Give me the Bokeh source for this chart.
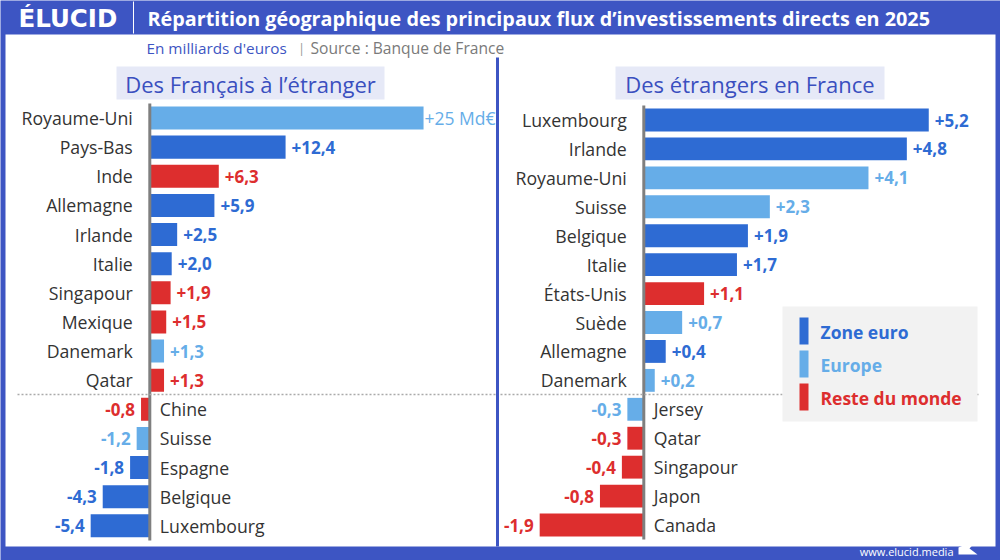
from bokeh.plotting import figure
from bokeh.models import Range1d, ColumnDataSource
from bokeh.embed import file_html
from bokeh.resources import INLINE
from bokeh.core.properties import value

# ---------------- data ----------------
out_countries = ["Royaume-Uni", "Pays-Bas", "Inde", "Allemagne", "Irlande", "Italie",
                 "Singapour", "Mexique", "Danemark", "Qatar",
                 "Chine", "Suisse", "Espagne", "Belgique", "Luxembourg"]
out_values = [25, 12.4, 6.3, 5.9, 2.5, 2.0, 1.9, 1.5, 1.3, 1.3,
              -0.8, -1.2, -1.8, -4.3, -5.4]
out_groups = ["Europe", "Zone euro", "Reste du monde", "Zone euro", "Zone euro", "Zone euro",
              "Reste du monde", "Reste du monde", "Europe", "Reste du monde",
              "Reste du monde", "Europe", "Zone euro", "Zone euro", "Zone euro"]

in_countries = ["Luxembourg", "Irlande", "Royaume-Uni", "Suisse", "Belgique", "Italie",
                "États-Unis", "Suède", "Allemagne", "Danemark",
                "Jersey", "Qatar", "Singapour", "Japon", "Canada"]
in_values = [5.2, 4.8, 4.1, 2.3, 1.9, 1.7, 1.1, 0.7, 0.4, 0.2,
             -0.3, -0.3, -0.4, -0.8, -1.9]
in_groups = ["Zone euro", "Zone euro", "Europe", "Europe", "Zone euro", "Zone euro",
             "Reste du monde", "Europe", "Zone euro", "Europe",
             "Europe", "Reste du monde", "Reste du monde", "Reste du monde", "Reste du monde"]

groups = ["Zone euro", "Europe", "Reste du monde"]
group_colors = ["#2e6bd3", "#66ade8", "#dd2e2e"]

title = "Répartition géographique des principaux flux d’investissements directs en 2025"
subtitle_unit = "En milliards d'euros"
subtitle_source = "Source : Banque de France"
panel_titles = ["Des Français à l’étranger", "Des étrangers en France"]
brand = "ÉLUCID"
site = "www.elucid.media"

# ---------------- style ----------------
FONT = value("Open Sans")
BLUE = "#3d55c3"
LABEL = "#333333"
cmap = dict(zip(groups, group_colors))


def fmt(v, unit=""):
    sign = "+" if v > 0 else "-"
    if unit:
        return sign + f"{abs(v):g}" + " " + unit
    return sign + f"{abs(v):.1f}".replace(".", ",")


def sources(countries, vals, grps, first_unit=""):
    rows = list(range(len(countries)))
    labels = [fmt(v, first_unit if i == 0 else "") for i, v in enumerate(vals)]
    cols = [cmap[g] for g in grps]
    full = ColumnDataSource(dict(row=rows, val=vals, color=cols))

    def sub(ix):
        return ColumnDataSource(dict(row=[rows[i] for i in ix], val=[vals[i] for i in ix],
                                     color=[cols[i] for i in ix], lab=[labels[i] for i in ix],
                                     name=[countries[i] for i in ix], zero=[0] * len(ix)))
    unit_ix = [0] if first_unit else []
    pos = [i for i, v in enumerate(vals) if v >= 0 and i not in unit_ix]
    neg = [i for i, v in enumerate(vals) if v < 0]
    names_pos = [i for i, v in enumerate(vals) if v >= 0]
    return full, sub(pos), sub(neg), sub(names_pos), sub(unit_ix)


p = figure(width=1000, height=560, x_range=Range1d(0, 1000), y_range=Range1d(560, 0),
           output_backend="svg", toolbar_location=None, min_border=0,
           x_axis_location=None, y_axis_location=None, outline_line_color=None,
           background_fill_color=BLUE, border_fill_color=BLUE)
p.grid.visible = False

p.extra_x_ranges = {
    "L": Range1d(-149.3 / 10.95, (1000 - 149.3) / 10.95),
    "R": Range1d(-643.3 / 54.8, (1000 - 643.3) / 54.8),
}
p.extra_y_ranges = {
    "L": Range1d((560 - 117.5) / 29.13, -117.5 / 29.13),
    "R": Range1d((560 - 119.5) / 28.93, -119.5 / 28.93),
}

# white content area
p.quad(left=5, right=995, top=34, bottom=546, fill_color="white", line_color=None)

# header
p.text(x=18, y=18, text=[brand], text_font=value("DejaVu Sans"), text_font_style="bold",
       text_font_size="24.5px", text_color="white", text_baseline="middle", text_align="left")
p.segment(x0=133, y0=1, x1=133, y1=33, line_color="white", line_width=1)
p.text(x=147, y=18, text=[title], text_font=FONT, text_font_style="bold",
       text_font_size="19.8px", text_color="white", text_baseline="middle", text_align="left")

# subtitle
p.text(x=146, y=47, text=[subtitle_unit], text_font=FONT, text_font_size="15.3px",
       text_color=BLUE, text_baseline="middle", text_align="left")
p.text(x=301, y=47, text=["|"], text_font=FONT, text_font_size="13px",
       text_color="#999999", text_baseline="middle", text_align="center")
p.text(x=310, y=47, text=[subtitle_source], text_font=FONT, text_font_size="15.6px",
       text_color="#7a7a7a", text_baseline="middle", text_align="left")

# divider
p.segment(x0=497, y0=57, x1=497, y1=546, line_color=BLUE, line_width=3)

# panel titles
p.quad(left=[116, 615], right=[384, 884], top=[66, 66], bottom=[99, 99],
       fill_color="#e6e9f7", line_color=None)
p.text(x=[250, 749.5], y=[83, 83], text=panel_titles, text_font=FONT,
       text_font_size="22px", text_color="#3a4fbf", text_baseline="middle", text_align="center")

for name, (countries, vals, grps, unit) in {
        "L": (out_countries, out_values, out_groups, "Md€"),
        "R": (in_countries, in_values, in_groups, "")}.items():
    full, pos, neg, names_pos, unit_src = sources(countries, vals, grps, unit)
    kw = dict(x_range_name=name, y_range_name=name)
    p.hbar(y="row", left=0, right="val", height=0.79, fill_color="color", line_color=None,
           source=full, **kw)
    p.segment(x0=0, y0=-0.5, x1=0, y1=len(countries) - 0.5, line_color="#7f7f7f",
              line_width=3, **kw)
    # positive values
    p.text(x="val", y="row", text="lab", source=pos, text_color="color", x_offset=6,
           text_font=FONT, text_font_style="bold", text_font_size="17px",
           text_baseline="middle", text_align="left", **kw)
    # value with unit (largest bar)
    p.text(x="val", y="row", text="lab", source=unit_src, text_color="color", x_offset=1,
           text_font=FONT, text_font_size="17.5px",
           text_baseline="middle", text_align="left", **kw)
    p.text(x="zero", y="row", text="name", source=names_pos, text_color=LABEL, x_offset=-17,
           text_font=FONT, text_font_size="17.7px", text_baseline="middle", text_align="right", **kw)
    # negative values
    p.text(x="val", y="row", text="lab", source=neg, text_color="color", x_offset=-6,
           text_font=FONT, text_font_style="bold", text_font_size="17px",
           text_baseline="middle", text_align="right", **kw)
    p.text(x="zero", y="row", text="name", source=neg, text_color=LABEL, x_offset=10,
           text_font=FONT, text_font_size="17.7px", text_baseline="middle", text_align="left", **kw)

# dotted separator between gains and losses
p.segment(x0=[17, 500], y0=[394, 394], x1=[495, 978], y1=[394, 394],
          line_color="#aaaaaa", line_width=1.5, line_dash="2 2")

# legend
p.quad(left=782, right=977, top=306, bottom=421, fill_color="#f2f2f2", line_color=None)
leg_y = [331, 364, 397]
p.quad(left=799, right=808, top=[y - 14 for y in leg_y], bottom=[y + 13 for y in leg_y],
       fill_color=group_colors, line_color=None)
p.text(x=820, y=leg_y, text=groups, text_color=group_colors, text_font=FONT,
       text_font_style="bold", text_font_size="17.5px", text_baseline="middle", text_align="left")

# footer
p.text(x=953, y=551, text=[site], text_font=FONT, text_font_size="11px", text_color="white",
       text_baseline="middle", text_align="right")
p.patch(x=[958, 958, 977, 969, 977], y=[554, 547, 539, 548, 554], fill_color="white",
        line_color=None)

open("out.html", "w").write(file_html(p, INLINE))
